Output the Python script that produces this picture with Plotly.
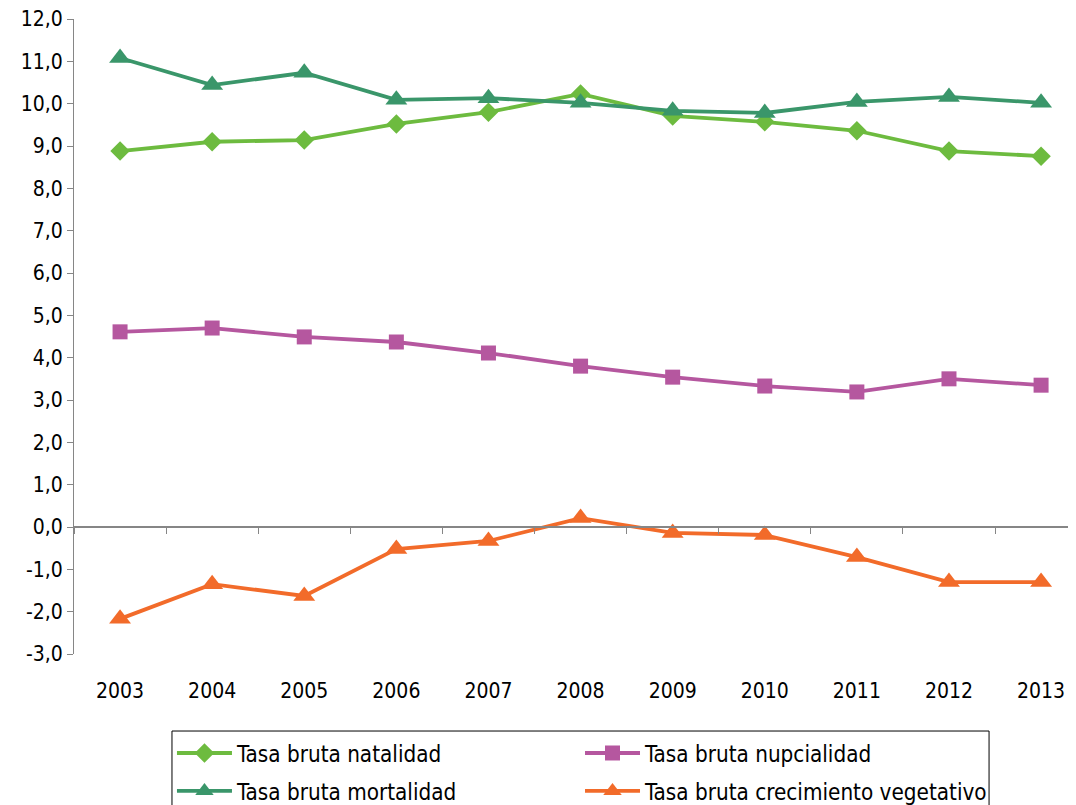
import plotly.graph_objects as go

# Data
years = ["2003", "2004", "2005", "2006", "2007", "2008", "2009", "2010", "2011", "2012", "2013"]
natalidad = [8.88, 9.10, 9.14, 9.52, 9.80, 10.23, 9.71, 9.57, 9.36, 8.88, 8.76]
mortalidad = [11.08, 10.44, 10.73, 10.09, 10.13, 10.02, 9.83, 9.78, 10.04, 10.16, 10.02]
nupcialidad = [4.61, 4.70, 4.49, 4.37, 4.11, 3.80, 3.54, 3.33, 3.19, 3.50, 3.35]
crecimiento = [-2.17, -1.35, -1.63, -0.52, -0.33, 0.21, -0.14, -0.19, -0.71, -1.30, -1.30]

ytick_vals = [12, 11, 10, 9, 8, 7, 6, 5, 4, 3, 2, 1, 0, -1, -2, -3]
ytick_text = ["12,0", "11,0", "10,0", "9,0", "8,0", "7,0", "6,0", "5,0", "4,0", "3,0",
              "2,0", "1,0", "0,0", "-1,0", "-2,0", "-3,0"]

FONT = "DejaVu Sans Condensed, DejaVu Sans, sans-serif"

fig = go.Figure()

# one legend per entry so the 2x2 grid lines up like the original
fig.add_trace(go.Scatter(
    x=years, y=natalidad, name="Tasa bruta natalidad", mode="lines+markers",
    line=dict(color="#6DBB3F", width=3.8),
    marker=dict(symbol="diamond", size=15, color="#6DBB3F"),
    legend="legend"
))
fig.add_trace(go.Scatter(
    x=years, y=nupcialidad, name="Tasa bruta nupcialidad", mode="lines+markers",
    line=dict(color="#B5579F", width=3.8),
    marker=dict(symbol="square", size=15, color="#B5579F"),
    legend="legend2"
))
fig.add_trace(go.Scatter(
    x=years, y=mortalidad, name="Tasa bruta mortalidad", mode="lines+markers",
    line=dict(color="#3A966A", width=3.8),
    marker=dict(symbol="triangle-up", size=19, color="#3A966A"),
    legend="legend3"
))
fig.add_trace(go.Scatter(
    x=years, y=crecimiento, name="Tasa bruta crecimiento vegetativo", mode="lines+markers",
    line=dict(color="#F26B2A", width=3.8),
    marker=dict(symbol="triangle-up", size=19, color="#F26B2A"),
    legend="legend4"
))
# invisible trace carrying the axis that crosses at zero
fig.add_trace(go.Scatter(
    x=years, y=crecimiento, xaxis="x2", mode="lines",
    line=dict(width=0), showlegend=False, hoverinfo="skip", opacity=0
))

xrange = [-0.5, 10.466]
legend_common = dict(
    orientation="h", xanchor="left", yanchor="middle",
    font=dict(family=FONT, size=22.3, color="#000000"),
    bgcolor="rgba(0,0,0,0)", itemwidth=55, itemclick=False
)

fig.update_layout(
    width=1076, height=805,
    margin=dict(l=66, r=0, t=11, b=159, autoexpand=False),
    paper_bgcolor="white", plot_bgcolor="white",
    font=dict(family=FONT, size=21, color="#000000"),
    xaxis=dict(
        type="category", range=xrange, showline=False, showgrid=False,
        ticks="outside", ticklen=18, tickcolor="rgba(0,0,0,0)",
        tickfont=dict(family=FONT, size=21, color="#000000"),
        ticklabeloverflow="allow", automargin=False, fixedrange=True
    ),
    xaxis2=dict(
        type="category", range=xrange, overlaying="x", anchor="free", position=0.2,
        showline=True, linecolor="#868686", linewidth=2,
        ticks="outside", tickson="boundaries", ticklen=6, tickcolor="#868686", tickwidth=1,
        showticklabels=False, showgrid=False, automargin=False
    ),
    yaxis=dict(
        range=[-3, 12], tickvals=ytick_vals, ticktext=ytick_text,
        showline=True, linecolor="#868686", linewidth=1,
        ticks="outside", ticklen=6, tickcolor="#868686",
        showgrid=False, zeroline=False, automargin=False,
        ticklabeloverflow="allow",
        tickfont=dict(family=FONT, size=21, color="#000000")
    ),
    legend=dict(x=0.097, y=-0.1559, **legend_common),
    legend2=dict(x=0.501, y=-0.1559, **legend_common),
    legend3=dict(x=0.097, y=-0.2157, **legend_common),
    legend4=dict(x=0.501, y=-0.2157, **legend_common),
    shapes=[dict(
        type="rect", xref="paper", yref="paper",
        x0=0.097, x1=0.906, y0=-0.26, y1=-0.1213,
        line=dict(color="#000000", width=1), fillcolor="rgba(0,0,0,0)"
    )],
    showlegend=True
)

fig.write_html("out.html")
